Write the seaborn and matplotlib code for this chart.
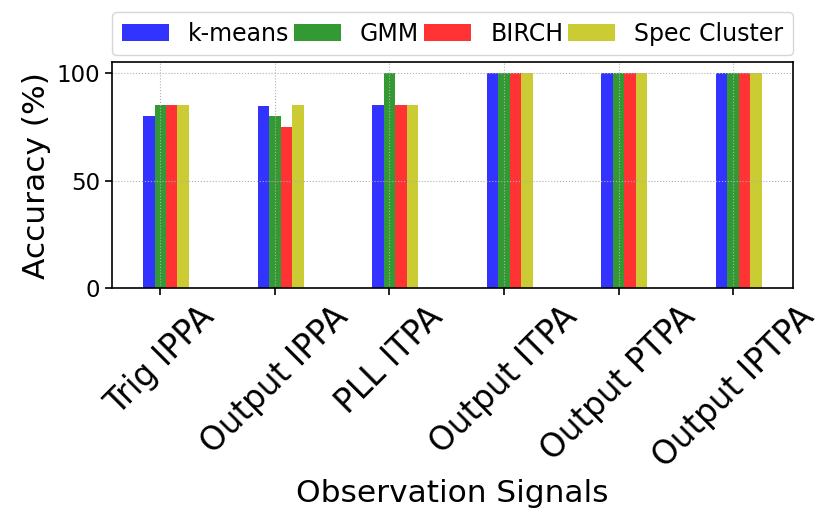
import matplotlib
matplotlib.use("Agg")
import matplotlib.pyplot as plt
import seaborn as sns
import numpy as np
import pandas as pd

# signals on the x axis
signals = ["Trig IPPA", "Output IPPA", "PLL ITPA", "Output ITPA", "Output PTPA", "Output IPTPA"]

# accuracy (%) per clustering method
kmeans = [80, 84.5, 85, 100, 100, 100]
gmm = [85, 80, 100, 100, 100, 100]
birch = [85, 75, 85, 100, 100, 100]
spec_cluster = [85, 85, 85, 100, 100, 100]

methods = ["k-means", "GMM", "BIRCH", "Spec Cluster"]
colors = ["blue", "green", "red", "y"]
offsets = [-0.1, 0.0, 0.1, 0.2]

fig, ax = plt.subplots(figsize=(8.31, 5.22), dpi=100)

pos = np.arange(len(signals))
for vals, name, col, off in zip([kmeans, gmm, birch, spec_cluster], methods, colors, offsets):
    df = pd.DataFrame({"x": pos + off, "acc": vals})
    sns.barplot(data=df, x="x", y="acc", native_scale=True, width=0.1,
                color=col, alpha=0.8, saturation=1, linewidth=0,
                label=name, ax=ax, errorbar=None)

ax.set_xticks(pos)
ax.set_xticklabels(signals, rotation=45, ha="center", fontsize=23.5)
ax.set_xlim(-0.42, 5.52)
ax.set_ylim(0, 105)
ax.set_yticks([0, 50, 100])
ax.tick_params(axis="y", labelsize=16.5)
ax.tick_params(axis="both", length=5, width=1.2)
ax.grid(linestyle=":")
for s in ax.spines.values():
    s.set_linewidth(1.2)

ax.set_xlabel("Observation Signals", fontsize=22.5)
ax.set_ylabel("Accuracy (%)", fontsize=22.5)

ax.legend(bbox_to_anchor=(0, 1.03, 1, 0.2), loc="lower left", mode="expand",
          ncol=4, borderaxespad=0, fontsize=17)

fig.subplots_adjust(left=0.135, right=0.954, top=0.881, bottom=0.448)
fig.savefig("out.png")
